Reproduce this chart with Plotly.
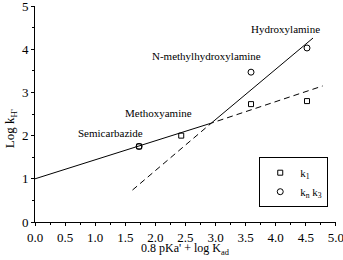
import plotly.graph_objects as go

# data
k1_x = [1.73, 2.43, 3.59, 4.52]
k1_y = [1.75, 2.00, 2.73, 2.80]
kn_x = [1.73, 3.59, 4.52]
kn_y = [1.75, 3.47, 4.03]
solid_x = [0.0, 2.93, 4.62]
solid_y = [1.00, 2.29, 4.26]
dash_x = [1.62, 2.93, 4.78]
dash_y = [0.74, 2.29, 3.15]
labels = ["Hydroxylamine", "N-methylhydroxylamine", "Methoxyamine", "Semicarbazide"]
label_x = [4.17, 2.85, 2.05, 1.26]
label_y = [4.47, 3.84, 2.52, 2.06]
x_title = "0.8 pKa' + log K<sub>ad</sub>"
y_title = "Log k<sub>H'</sub>"
x_dtick = 0.5
y_dtick = 1

FONT = "Liberation Serif, serif"

fig = go.Figure()
fig.add_trace(go.Scatter(x=solid_x, y=solid_y, mode="lines",
                         line=dict(color="black", width=1), showlegend=False))
fig.add_trace(go.Scatter(x=dash_x, y=dash_y, mode="lines",
                         line=dict(color="black", width=1, dash="6px,4px"), showlegend=False))
fig.add_trace(go.Scatter(x=k1_x, y=k1_y, mode="markers", name="k<sub>1</sub>",
                         marker=dict(symbol="square-open", size=5, color="black", line=dict(width=1))))
fig.add_trace(go.Scatter(x=kn_x, y=kn_y, mode="markers", name="k<sub>n</sub> k<sub>3</sub>",
                         marker=dict(symbol="circle-open", size=6, color="black", line=dict(width=1))))

for t, x, y in zip(labels, label_x, label_y):
    fig.add_annotation(x=x, y=y, text=t, showarrow=False,
                       font=dict(family=FONT, size=11, color="black"))

# axis titles as paper annotations
fig.add_annotation(xref="paper", yref="paper", x=0.5, y=-0.172, yanchor="bottom",
                   text=x_title, showarrow=False,
                   font=dict(family=FONT, size=12, color="black"))
fig.add_annotation(xref="paper", yref="paper", x=-0.083, y=0.43, xanchor="center",
                   yanchor="middle", textangle=-90, text=y_title, showarrow=False,
                   font=dict(family=FONT, size=13, color="black"))

axis_common = dict(showline=True, linecolor="black", linewidth=1, ticks="outside",
                   ticklen=3, tickcolor="black", showgrid=False, zeroline=False,
                   automargin=False, ticklabeloverflow="allow",
                   tickfont=dict(family=FONT, size=13, color="black"),
                   minor=dict(ticks="outside", ticklen=2, tickcolor="black"))

fig.update_xaxes(range=[0, 5.002], tickmode="linear", tick0=0, dtick=x_dtick, tickformat=".1f",
                 minor_dtick=x_dtick / 2, **axis_common)
fig.update_yaxes(range=[0, 5.002], tickmode="linear", tick0=0, dtick=y_dtick,
                 minor_dtick=y_dtick / 2, **axis_common)

fig.update_layout(width=343, height=260, margin=dict(l=35, r=7, t=6, b=38, autoexpand=False),
                  plot_bgcolor="white", paper_bgcolor="white",
                  font=dict(family=FONT, color="black"),
                  legend=dict(x=0.745, y=0.30, xanchor="left", yanchor="top",
                              bordercolor="black", borderwidth=1, bgcolor="white",
                              font=dict(family=FONT, size=11, color="black"),
                              itemwidth=30, tracegroupgap=0))

fig.write_html("out.html")
